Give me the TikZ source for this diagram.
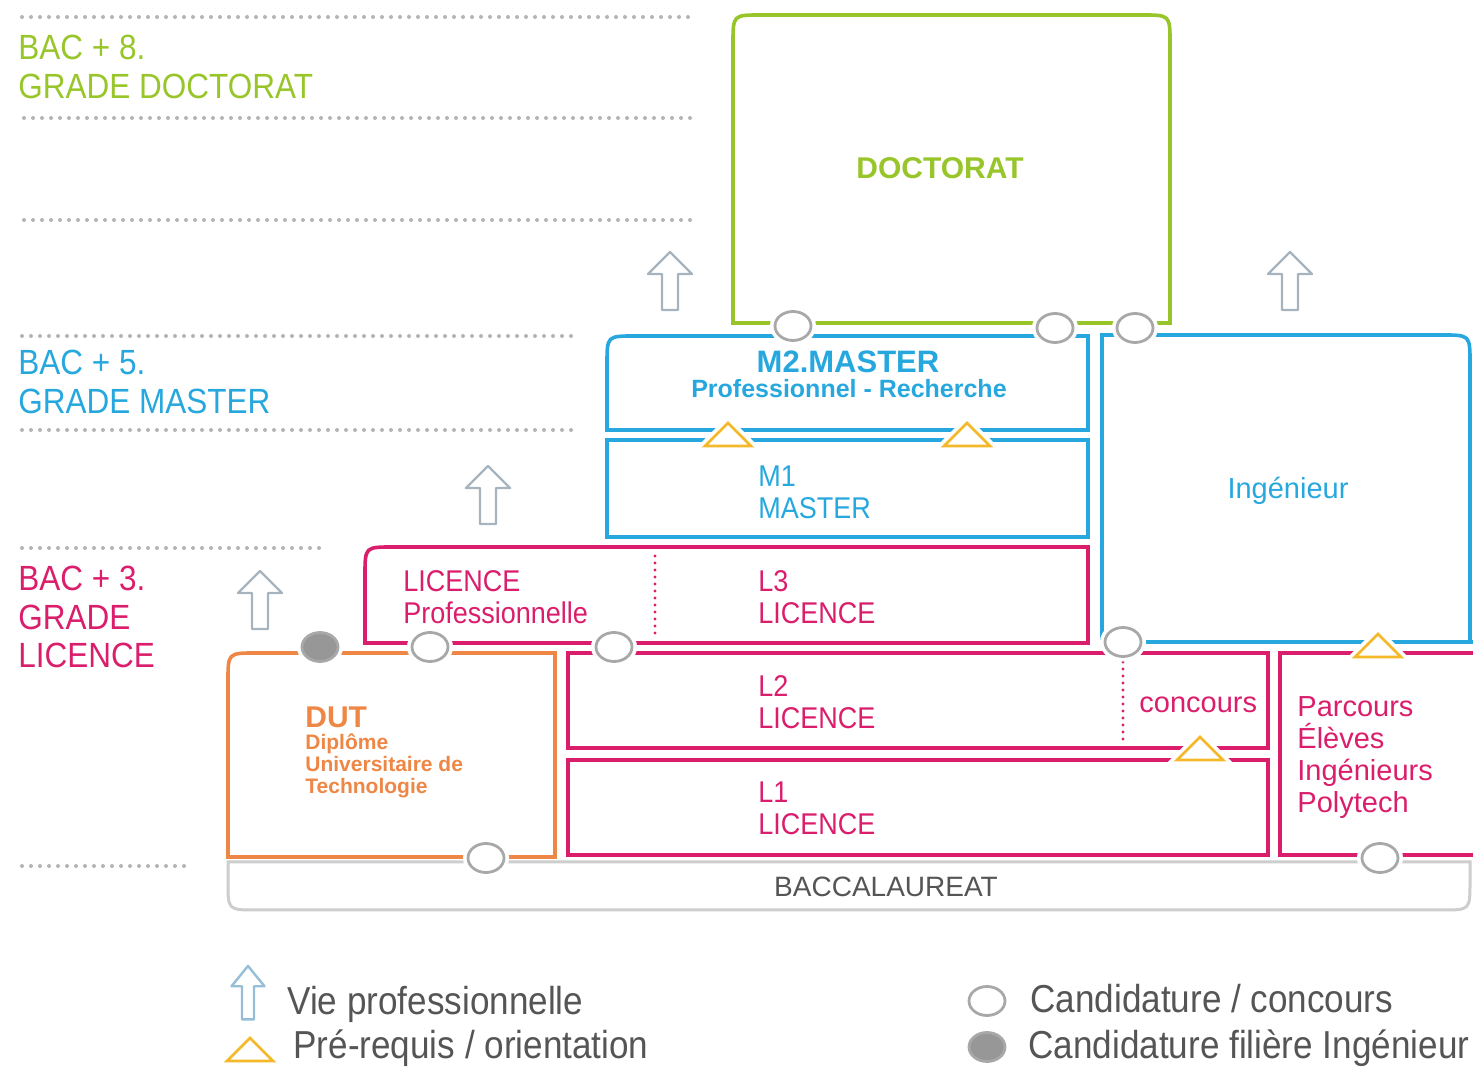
\documentclass[tikz,border=0pt]{standalone}
\usepackage{fontspec}
\setmainfont{Liberation Sans}
\newfontfamily\narrowfont[FakeStretch=0.9]{Liberation Sans}
\usetikzlibrary{shapes.geometric}
\definecolor{docgreen}{RGB}{152,198,42}
\definecolor{masblue}{RGB}{38,168,222}
\definecolor{licpink}{RGB}{218,30,108}
\definecolor{dutorange}{RGB}{238,135,70}
\definecolor{triyellow}{RGB}{244,184,40}
\definecolor{ringgray}{RGB}{168,168,168}
\definecolor{arrowgray}{RGB}{165,180,190}
\definecolor{legblue}{RGB}{150,190,215}
\definecolor{levelgray}{RGB}{180,180,180}
\definecolor{bacgray}{RGB}{205,205,205}
\definecolor{textgray}{RGB}{85,85,85}

\begin{document}
\begin{tikzpicture}[x=0.5pt,y=-0.5pt,
    box/.style={line width=1.8pt},
    level/.style={levelgray,line width=2pt,line cap=round,dash pattern=on 0pt off 4.5pt},
    sep/.style={line width=1.6pt,line cap=round,dash pattern=on 0pt off 3.5pt},
    ring/.style={ellipse,draw=ringgray,fill=white,line width=1.4pt,minimum width=18pt,minimum height=14.5pt,inner sep=0pt,preaction={draw=white,line width=5pt}},
    ringfull/.style={ring,fill=ringgray!90!black},
    lab/.style={anchor=north west,inner sep=0pt,align=left,font=\fontsize{17.5}{19.2}\narrowfont},
    inbox/.style={anchor=north west,inner sep=0pt,align=left,font=\fontsize{15}{16}\narrowfont},
    leg/.style={anchor=base west,inner sep=0pt,textgray,font=\fontsize{19.5}{22}\narrowfont},
    up/.pic={\draw[line width=1.2pt,line join=round] (0,0) -- (22,22) -- (8,22) -- (8,58) -- (-8,58) -- (-8,22) -- (-22,22) -- cycle;},
    tri/.pic={\draw[triyellow,line width=1.4pt,fill=white,preaction={draw=white,line width=5pt}] (-23,11) -- (0,-12) -- (23,11) -- cycle;}
  ]
  \useasboundingbox (0,0) rectangle (1473,1068);

  % levels
  \draw[level] (22,17) -- (695,17);
  \draw[level] (24,118) -- (695,118);
  \draw[level] (24,220) -- (695,220);
  \draw[level] (22,336) -- (578,336);
  \draw[level] (22,430) -- (578,430);
  \draw[level] (22,548) -- (325,548);
  \draw[level] (22,866) -- (185,866);
  \node[lab,docgreen] (bac8) at (18,35) {BAC + 8.\\GRADE DOCTORAT};
  \node[lab,masblue] (bac5) at (18,350) {BAC + 5.\\GRADE MASTER};
  \node[lab,licpink] (bac3) at (18,566) {BAC + 3.\\GRADE\\LICENCE};

  % doctorat
  \draw[box,docgreen] (1135,323) -- (1170,323) -- (1170,43) .. controls (1170,15) .. (1142,15) -- (761,15) .. controls (733,15) .. (733,43) -- (733,323) -- cycle;
  \node[docgreen,font=\fontsize{15}{17}\selectfont\bfseries] (doc) at (940,168) {DOCTORAT};

  % master
  \draw[box,masblue] (1088,336) -- (635,336) .. controls (607,336) .. (607,364) -- (607,430) -- (1088,430) -- cycle;
  \draw[box,masblue] (607,440) rectangle (1088,537);
  \node[masblue,inner sep=0pt,font=\fontsize{15.5}{17}\selectfont\bfseries] (m2) at (848,362) {M2.MASTER};
  \node[masblue,inner sep=0pt,font=\fontsize{12.5}{14}\selectfont\bfseries] (m2sub) at (849,389) {Professionnel - Recherche};
  \node[inbox,masblue] (m1) at (758,465) {M1\\MASTER};

  % ingenieur
  \draw[box,masblue] (1473,642) -- (1102,642) -- (1102,335) -- (1442,335) .. controls (1470,335) .. (1470,363) -- (1470,642);
  \node[masblue,anchor=base,inner sep=0pt,font=\fontsize{14.5}{16}\selectfont] (ing) at (1288,499) {Ingénieur};

  % licence
  \draw[box,licpink] (1088,547) -- (393,547) .. controls (365,547) .. (365,575) -- (365,643) -- (1088,643) -- cycle;
  \draw[sep,licpink] (655,556) -- (655,636);
  \draw[box,licpink] (568,653) rectangle (1268,748);
  \draw[box,licpink] (568,760) rectangle (1268,855);
  \draw[sep,licpink] (1123,662) -- (1123,742);
  \node[inbox,licpink] (lpro) at (403,570) {LICENCE\\Professionnelle};
  \node[inbox,licpink] (l3) at (758,570) {L3\\LICENCE};
  \node[inbox,licpink] (l2) at (758,675) {L2\\LICENCE};
  \node[inbox,licpink] (l1) at (758,781) {L1\\LICENCE};
  \node[licpink,anchor=base west,inner sep=0pt,font=\fontsize{14.5}{16}\selectfont] (conc) at (1139,713) {concours};

  % polytech
  \draw[box,licpink] (1473,653) -- (1280,653) -- (1280,855) -- (1473,855);
  \node[licpink,anchor=north west,inner sep=0pt,align=left,font=\fontsize{14.5}{16}\selectfont] (poly) at (1297,696) {Parcours\\Élèves\\Ingénieurs\\Polytech};

  % dut
  \draw[box,dutorange] (555,653) -- (256,653) .. controls (228,653) .. (228,681) -- (228,857) -- (555,857) -- cycle;
  \node[dutorange,anchor=north west,inner sep=0pt,font=\fontsize{15}{17}\selectfont\bfseries] (dut) at (305,706) {DUT};
  \node[dutorange,anchor=north west,inner sep=0pt,align=left,font=\fontsize{10.5}{11}\selectfont\bfseries] (dutsub) at (305,733) {Diplôme\\Universitaire de\\Technologie};

  % baccalaureat
  \draw[bacgray,line width=1.5pt] (228,862) -- (228,882) .. controls (228,910) .. (256,910) -- (1442,910) .. controls (1470,910) .. (1470,882) -- (1470,862) -- cycle;
  \node[textgray,font=\fontsize{14}{16}\selectfont] (bac) at (886,887) {BACCALAUREAT};

  % candidatures
  \node[ring] (c1) at (793,326) {};
  \node[ring] (c2) at (1055,328) {};
  \node[ring] (c3) at (1135,328) {};
  \node[ring] (c4) at (430,647) {};
  \node[ring] (c5) at (614,647) {};
  \node[ring] (c6) at (1123,642) {};
  \node[ring] (c7) at (486,858) {};
  \node[ring] (c8) at (1380,858) {};
  \node[ringfull] (c9) at (320,647) {};

  % pre-requis
  \pic at (728,435) {tri};
  \pic at (967,435) {tri};
  \pic at (1200,749) {tri};
  \pic at (1378,646) {tri};

  % vie professionnelle
  \pic[arrowgray] at (670,252) {up};
  \pic[arrowgray] at (488,466) {up};
  \pic[arrowgray] at (260,571) {up};
  \pic[arrowgray] at (1290,252) {up};

  % legend
  \pic[legblue,xscale=0.75,yscale=0.92] at (248,966) {up};
  \node[leg] (vie) at (287,1014) {Vie professionnelle};
  \pic at (250,1050) {tri};
  \node[leg] (pre) at (293,1058) {Pré-requis / orientation};
  \node[ring] (lc1) at (987,1001) {};
  \node[leg] (cand) at (1030,1012) {Candidature / concours};
  \node[ringfull] (lc2) at (987,1047) {};
  \node[leg] (candi) at (1028,1058) {Candidature filière Ingénieur};
\end{tikzpicture}
\end{document}
